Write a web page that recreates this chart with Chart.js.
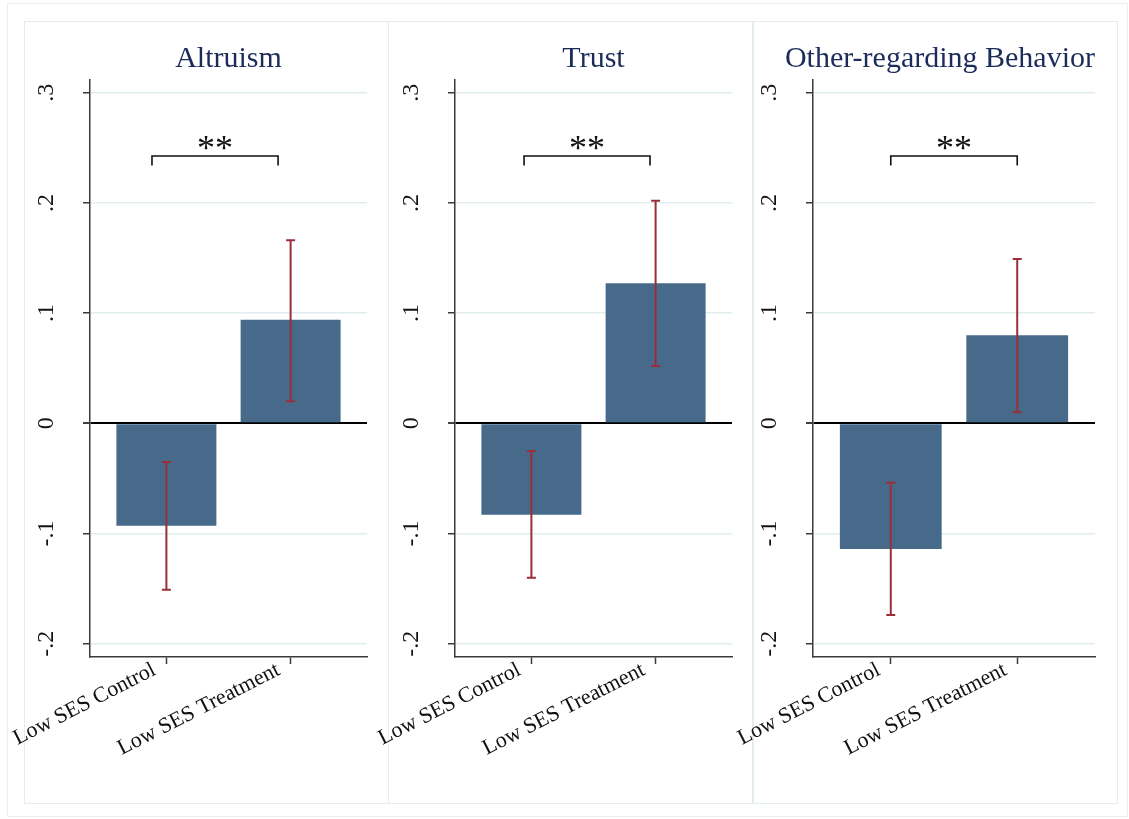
<!DOCTYPE html>
<html>
<head>
<meta charset="utf-8">
<script src="https://cdn.jsdelivr.net/npm/chart.js@4.4.1/dist/chart.umd.min.js"></script>
<style>
  html, body { margin: 0; padding: 0; background: #fff; }
  body { width: 1129px; height: 819px; position: relative; overflow: hidden; }
  #frame { position: absolute; left: 7px; top: 3px; width: 1121px; height: 814px;
           border: 1.5px solid #e8f0f3; box-sizing: border-box; }
  .box { position: absolute; top: 21px; height: 783px; border: 1.5px solid #e3ecf0; box-sizing: border-box; }
  canvas { position: absolute; top: 21px; }
</style>
</head>
<body>
<div id="frame"></div>
<div class="box" style="left:24px;width:365px"></div>
<div class="box" style="left:388px;width:366px"></div>
<div class="box" style="left:752px;width:366px"></div>
<!-- canvases reach left past their box so the slanted labels are not cut -->
<canvas id="p1" width="388" height="782" style="left:0px"></canvas>
<canvas id="p2" width="389" height="782" style="left:364px"></canvas>
<canvas id="p3" width="388" height="782" style="left:729px"></canvas>
<script>
/* data */
const categories = ['Low SES Control', 'Low SES Treatment'];
const panelTitles = ['Altruism', 'Trust', 'Other-regarding Behavior'];

const altruismMean = [-0.093, 0.094];
const altruismLow = [-0.151, 0.020];
const altruismHigh = [-0.035, 0.166];

const trustMean = [-0.083, 0.127];
const trustLow = [-0.140, 0.052];
const trustHigh = [-0.025, 0.202];

const otherMean = [-0.114, 0.080];
const otherLow = [-0.174, 0.010];
const otherHigh = [-0.054, 0.149];

const sigLabels = ['**', '**', '**'];

const yTickValues = [-0.2, -0.1, 0, 0.1, 0.2, 0.3];
const yTickLabels = ['-.2', '-.1', '0', '.1', '.2', '.3'];

/* look */
const serif = '"Liberation Serif", "Times New Roman", serif';
const barColor = '#476a8b';
const ciColor = '#9b2f39';
const axisColor = '#3a3a3a';
const gridColor = '#e2edf0';
const titleColor = '#1c2c5a';

const xMin = 0.385, xMax = 2.615;
const yMin = -0.212, yMax = 0.3115;

// canvas layout for each panel (axis width, right padding, title placement) and bracket spot in data units
const panels = [
  { id: 'p1', mean: altruismMean, low: altruismLow, high: altruismHigh, axisW: 90, padRight: 21,
    titleFull: false, titleAlign: 'center', bracket: [0.884, 1.899] },
  { id: 'p2', mean: trustMean, low: trustLow, high: trustHigh, axisW: 91, padRight: 21,
    titleFull: false, titleAlign: 'center', bracket: [0.941, 1.955] },
  { id: 'p3', mean: otherMean, low: otherLow, high: otherHigh, axisW: 84, padRight: 22,
    titleFull: true, titleAlign: 'end', bracket: [1.0, 2.0] }
];
const bracketTop = 0.2426, bracketFoot = 0.234, starY = 0.2545;

/* error bars + significance bracket */
const errorBarPlugin = {
  id: 'ciBars',
  afterDatasetsDraw(chart, args, opts) {
    const { ctx } = chart;
    const x = chart.scales.x, y = chart.scales.y;
    const ds = chart.data.datasets[0];
    ctx.save();
    ctx.strokeStyle = ciColor;
    ctx.lineWidth = 2;
    ds.ciLow.forEach((lo, i) => {
      const px = x.getPixelForValue(i + 1);
      const y1 = y.getPixelForValue(lo);
      const y2 = y.getPixelForValue(ds.ciHigh[i]);
      ctx.beginPath();
      ctx.moveTo(px, y1); ctx.lineTo(px, y2);
      ctx.moveTo(px - 4.5, y1); ctx.lineTo(px + 4.5, y1);
      ctx.moveTo(px - 4.5, y2); ctx.lineTo(px + 4.5, y2);
      ctx.stroke();
    });

    const bx1 = x.getPixelForValue(opts.from);
    const bx2 = x.getPixelForValue(opts.to);
    const by = y.getPixelForValue(bracketTop);
    const bf = y.getPixelForValue(bracketFoot);
    ctx.strokeStyle = '#111';
    ctx.lineWidth = 1.6;
    ctx.beginPath();
    ctx.moveTo(bx1, bf); ctx.lineTo(bx1, by); ctx.lineTo(bx2, by); ctx.lineTo(bx2, bf);
    ctx.stroke();

    ctx.fillStyle = '#111';
    ctx.font = '36px ' + serif;
    ctx.textAlign = 'center';
    ctx.textBaseline = 'alphabetic';
    const m = ctx.measureText(opts.label);
    const cy = y.getPixelForValue(starY) + (m.actualBoundingBoxAscent - m.actualBoundingBoxDescent) / 2;
    ctx.fillText(opts.label, (bx1 + bx2) / 2, cy);
    ctx.restore();
  }
};

function drawPanel(p, k) {
  const zero = ctx => ctx.tick && ctx.tick.value === 0;
  new Chart(document.getElementById(p.id), {
    type: 'bar',
    data: {
      datasets: [{
        data: categories.map((c, i) => ({ x: i + 1, y: p.mean[i] })),
        ciLow: p.low,
        ciHigh: p.high,
        backgroundColor: barColor,
        borderWidth: 0,
        barPercentage: 0.805,
        categoryPercentage: 1
      }]
    },
    options: {
      responsive: false,
      animation: false,
      layout: { autoPadding: false, padding: { left: 0, right: p.padRight, top: 0, bottom: 0 } },
      plugins: {
        legend: { display: false },
        tooltip: { enabled: false },
        title: {
          display: true,
          text: panelTitles[k],
          fullSize: p.titleFull,
          align: p.titleAlign,
          color: titleColor,
          font: { family: serif, size: 30, weight: 'normal' },
          padding: { top: 20, bottom: 3 }
        },
        ciBars: { from: p.bracket[0], to: p.bracket[1], label: sigLabels[k] }
      },
      scales: {
        x: {
          type: 'linear',
          offset: false,
          min: xMin, max: xMax, bounds: 'data',
          afterBuildTicks: s => { s.ticks = categories.map((c, i) => ({ value: i + 1 })); },
          afterFit: s => { s.height = 146; s.paddingLeft = 0; s.paddingRight = 0; },
          grid: { offset: false, drawOnChartArea: false, drawTicks: true, tickLength: 7, tickColor: axisColor, tickWidth: 1.5 },
          border: { display: true, color: axisColor, width: 1.5 },
          ticks: {
            autoSkip: false, minRotation: 27, maxRotation: 27, padding: -7, labelOffset: -12,
            color: '#111', font: { family: serif, size: 22 },
            callback: (v, i) => categories[i]
          }
        },
        y: {
          type: 'linear',
          min: yMin, max: yMax, bounds: 'data',
          afterBuildTicks: s => { s.ticks = yTickValues.map(v => ({ value: v })); },
          afterFit: s => { s.width = p.axisW; s.paddingTop = 0; s.paddingBottom = 0; },
          grid: {
            color: ctx => zero(ctx) ? '#000' : gridColor,
            lineWidth: ctx => zero(ctx) ? 2 : 1.5,
            tickLength: 7,
            tickColor: ctx => zero(ctx) ? '#000' : axisColor,
            tickWidth: 1.5
          },
          border: { display: true, color: axisColor, width: 1.5 },
          ticks: {
            autoSkip: false, minRotation: 90, maxRotation: 90, crossAlign: 'center', padding: 23,
            color: '#111', font: { family: serif, size: 24 },
            callback: (v, i) => yTickLabels[i]
          }
        }
      }
    },
    plugins: [errorBarPlugin]
  });
}

panels.forEach(drawPanel);
</script>
</body>
</html>
